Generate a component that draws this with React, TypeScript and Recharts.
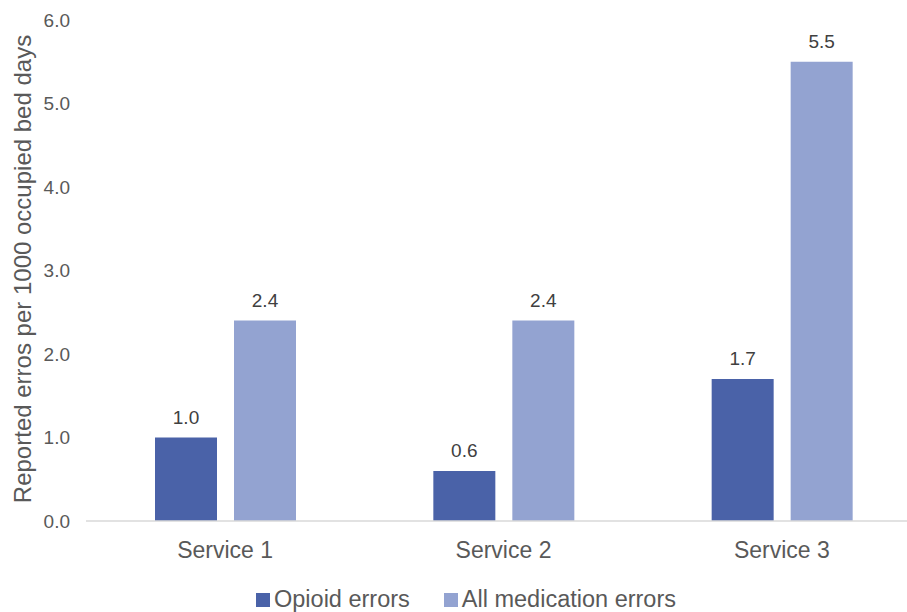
import React from 'react';
import { BarChart, Bar, XAxis, YAxis, Legend, LabelList, Label } from 'recharts';

const categories = ['Service 1', 'Service 2', 'Service 3'];
const opioidErrors = [1.0, 0.6, 1.7];
const allMedicationErrors = [2.4, 2.4, 5.5];
const yTicks = [0, 1, 2, 3, 4, 5, 6];
const seriesNames = ['Opioid errors', 'All medication errors'];
const colors = ['#4a62a8', '#93a3d1'];

const data = categories.map((c, i) => ({
  name: c,
  opioid: opioidErrors[i],
  all: allMedicationErrors[i],
}));

const FONT = '"Liberation Sans", Arial, Helvetica, sans-serif';

const renderLegend = () => (
  <div style={{ display: 'flex', alignItems: 'center', fontFamily: FONT, fontSize: 23.5, color: '#595959' }}>
    {seriesNames.map((n, i) => (
      <div key={n} style={{ display: 'flex', alignItems: 'center', marginRight: i === 0 ? 34 : 0 }}>
        <span style={{ display: 'inline-block', width: 14, height: 14, background: colors[i], marginRight: 4 }} />
        <span>{n}</span>
      </div>
    ))}
  </div>
);

const YLabel = () => (
  <text
    x={22}
    y={269}
    transform="rotate(-90 22 269)"
    textAnchor="middle"
    dominantBaseline="central"
    fill="#595959"
    fontSize={24}
    fontFamily={FONT}
  >
    Reported erros per 1000 occupied bed days
  </text>
);

export default function App() {
  return (
    <div style={{ position: 'absolute', left: 0, top: 0, width: 907, height: 612, overflow: 'hidden', background: '#fff' }}>
      <BarChart
        width={922}
        height={612}
        data={data}
        margin={{ top: 20, right: 1, bottom: 61, left: 0 }}
        barSize={62}
        barGap={17}
      >
        <XAxis
          dataKey="name"
          height={30}
          tickLine={false}
          tickSize={10}
          tickMargin={11}
          axisLine={{ stroke: '#d9d9d9', strokeWidth: 1.5 }}
          tick={{ fill: '#595959', fontSize: 23, fontFamily: FONT }}
        />
        <YAxis
          width={86}
          domain={[0, 6]}
          ticks={yTicks}
          interval={0}
          axisLine={false}
          tickLine={false}
          tickSize={8}
          tickMargin={8}
          tickFormatter={(v: number) => v.toFixed(1)}
          tick={{ fill: '#595959', fontSize: 19, fontFamily: FONT }}
        >
          <Label content={<YLabel />} />
        </YAxis>
        <Legend
          verticalAlign="middle"
          layout="horizontal"
          align="center"
          content={renderLegend}
          wrapperStyle={{ top: 586, left: 256, width: 500, height: 28 }}
        />
        <Bar dataKey="opioid" name={seriesNames[0]} fill={colors[0]} isAnimationActive={false}>
          <LabelList
            dataKey="opioid"
            position="top"
            offset={14}
            formatter={(v: number) => v.toFixed(1)}
            style={{ fill: '#404040', fontSize: 19, fontFamily: FONT }}
          />
        </Bar>
        <Bar dataKey="all" name={seriesNames[1]} fill={colors[1]} isAnimationActive={false}>
          <LabelList
            dataKey="all"
            position="top"
            offset={14}
            formatter={(v: number) => v.toFixed(1)}
            style={{ fill: '#404040', fontSize: 19, fontFamily: FONT }}
          />
        </Bar>
      </BarChart>
    </div>
  );
}
